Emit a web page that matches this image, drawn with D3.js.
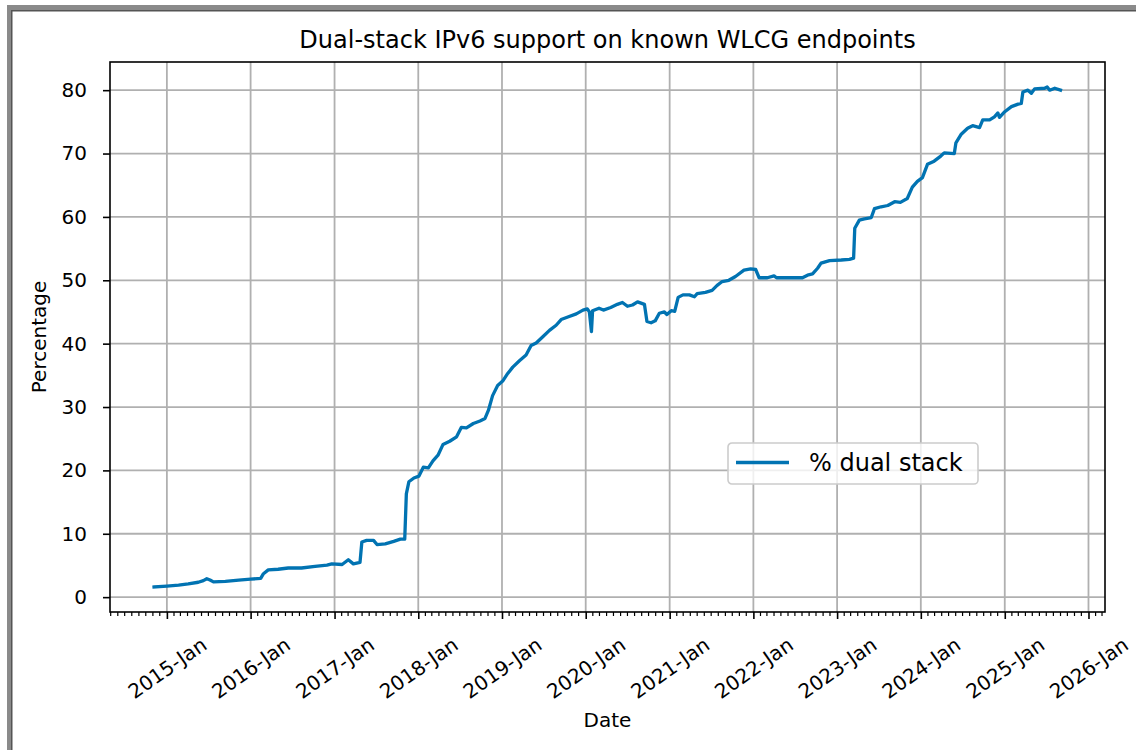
<!DOCTYPE html>
<html>
<head>
<meta charset="utf-8">
<script src="https://cdn.jsdelivr.net/npm/d3@7"></script>
<style>
  body { margin: 0; background: #fff; }
  svg text { font-family: "DejaVu Sans", sans-serif; fill: #000; }
</style>
</head>
<body>
<svg id="chart" width="1136" height="750"></svg>
<script>
var dates = [
  "2014-11-06","2015-01-01","2015-02-21","2015-04-04","2015-05-18","2015-06-09","2015-06-24","2015-07-08",
  "2015-07-23","2015-09-13","2015-11-10","2016-01-01","2016-02-14","2016-02-26","2016-03-18","2016-04-30",
  "2016-06-13","2016-08-10","2016-10-08","2016-11-29","2016-12-20","2017-02-03","2017-03-02","2017-03-24",
  "2017-04-22","2017-04-30","2017-05-21","2017-06-20","2017-07-05","2017-08-10","2017-09-16","2017-10-15",
  "2017-11-03","2017-11-10","2017-11-21","2017-12-13","2018-01-04","2018-01-23","2018-02-14","2018-03-06",
  "2018-03-28","2018-04-19","2018-05-18","2018-06-17","2018-07-08","2018-07-30","2018-08-29","2018-09-27",
  "2018-10-19","2018-11-03","2018-11-21","2018-12-13","2019-01-04","2019-01-26","2019-02-17","2019-03-18",
  "2019-04-16","2019-05-08","2019-05-30","2019-06-28","2019-07-27","2019-08-25","2019-09-16","2019-10-15",
  "2019-11-21","2019-12-20","2020-01-08","2020-01-17","2020-01-26","2020-01-31","2020-02-28","2020-03-18",
  "2020-04-19","2020-05-18","2020-06-09","2020-07-01","2020-07-23","2020-08-14","2020-09-13","2020-09-24",
  "2020-10-12","2020-10-30","2020-11-17","2020-12-09","2020-12-20","2021-01-08","2021-01-23","2021-02-07",
  "2021-02-28","2021-03-28","2021-04-19","2021-05-01","2021-06-06","2021-07-05","2021-07-27","2021-08-18",
  "2021-09-16","2021-10-15","2021-11-21","2021-12-20","2022-01-11","2022-01-26","2022-03-03","2022-04-01",
  "2022-04-12","2022-06-13","2022-08-03","2022-08-25","2022-09-16","2022-10-08","2022-10-23","2022-11-29",
  "2023-01-19","2023-02-24","2023-03-14","2023-03-19","2023-04-08","2023-04-30","2023-05-30","2023-06-13",
  "2023-07-12","2023-08-10","2023-09-09","2023-10-04","2023-11-03","2023-11-25","2023-12-17","2024-01-08",
  "2024-01-30","2024-02-28","2024-03-28","2024-04-12","2024-05-26","2024-06-02","2024-06-24","2024-07-23",
  "2024-08-14","2024-09-13","2024-09-27","2024-10-27","2024-11-17","2024-12-02","2024-12-09","2025-01-01",
  "2025-01-30","2025-02-28","2025-03-14","2025-03-21","2025-04-12","2025-04-27","2025-05-11","2025-06-24",
  "2025-07-05","2025-07-16","2025-08-07","2025-09-01"
]
var dualStack = [
  1.6, 1.75, 1.9, 2.1, 2.35, 2.6, 2.9, 2.7,
  2.4, 2.5, 2.7, 2.85, 2.95, 3.7, 4.3, 4.4,
  4.6, 4.6, 4.85, 5.05, 5.25, 5.15, 5.9, 5.25,
  5.5, 8.7, 8.95, 8.95, 8.3, 8.4, 8.8, 9.15,
  9.15, 16.3, 18.2, 18.8, 19.1, 20.5, 20.4, 21.5,
  22.4, 24.1, 24.6, 25.3, 26.8, 26.7, 27.4, 27.8,
  28.2, 29.5, 31.8, 33.4, 34.1, 35.3, 36.3, 37.3,
  38.2, 39.7, 40.1, 41.1, 42.1, 42.9, 43.8, 44.2,
  44.7, 45.3, 45.5, 45.0, 41.9, 45.2, 45.6, 45.3,
  45.7, 46.2, 46.5, 45.9, 46.1, 46.6, 46.2, 43.5,
  43.3, 43.6, 44.8, 45.0, 44.6, 45.2, 45.1, 47.3,
  47.7, 47.7, 47.4, 47.9, 48.1, 48.4, 49.2, 49.8,
  50.0, 50.6, 51.6, 51.8, 51.7, 50.4, 50.4, 50.7,
  50.4, 50.4, 50.4, 50.8, 51.0, 51.9, 52.7, 53.1,
  53.2, 53.3, 53.5, 58.2, 59.5, 59.7, 59.9, 61.3,
  61.6, 61.8, 62.4, 62.3, 62.9, 64.7, 65.6, 66.2,
  68.3, 68.8, 69.6, 70.1, 70.0, 71.7, 73.0, 74.0,
  74.4, 74.1, 75.3, 75.3, 75.8, 76.4, 75.7, 76.6,
  77.4, 77.8, 77.9, 79.7, 80.0, 79.5, 80.2, 80.3,
  80.5, 80.0, 80.3, 80.0
]
var yTicks = [0, 10, 20, 30, 40, 50, 60, 70, 80]
var xDomain = ["2014-04-28", "2026-03-14"]
var chartTitle = "Dual-stack IPv6 support on known WLCG endpoints"
var seriesName = "% dual stack"

var W = 1136, H = 750
// note: "top" is taken by window.top, so use a margin object
var m = { left: 110, right: 1105, top: 62, bottom: 612 }
var lineColor = "#0173b2"

var parse = d3.utcParse("%Y-%m-%d")
var data = dates.map(function(d, i) { return { date: parse(d), value: dualStack[i] } })

var svg = d3.select("#chart")

// window frame seen on the screenshot
svg.append("rect").attr("x", 7).attr("y", 5).attr("width", W - 7).attr("height", 6).attr("fill", "#8a8a8a")
svg.append("rect").attr("x", 7).attr("y", 5).attr("width", 5).attr("height", H - 5).attr("fill", "#8a8a8a")
svg.append("rect").attr("x", 11).attr("y", 10).attr("width", W - 11).attr("height", 1.5).attr("fill", "#555")
svg.append("rect").attr("x", 11).attr("y", 10).attr("width", 1.5).attr("height", H - 10).attr("fill", "#555")

var x = d3.scaleUtc().domain(xDomain.map(parse)).range([m.left, m.right])
var ext = d3.extent(dualStack)
var padY = (ext[1] - ext[0]) * 0.05
var y = d3.scaleLinear().domain([ext[0] - padY, ext[1] + padY]).range([m.bottom, m.top])

var years = d3.utcYear.range(d3.utcYear.ceil(x.domain()[0]), x.domain()[1])
var months = d3.utcMonth.range(d3.utcMonth.ceil(x.domain()[0]), x.domain()[1])

// grid
var grid = svg.append("g").attr("stroke", "#b0b0b0").attr("stroke-width", 1.8)
grid.selectAll(".gx").data(years).enter().append("line")
  .attr("x1", function(d) { return x(d) }).attr("x2", function(d) { return x(d) })
  .attr("y1", m.top).attr("y2", m.bottom)
grid.selectAll(".gy").data(yTicks).enter().append("line")
  .attr("y1", function(d) { return y(d) }).attr("y2", function(d) { return y(d) })
  .attr("x1", m.left).attr("x2", m.right)

// series
var line = d3.line().x(function(d) { return x(d.date) }).y(function(d) { return y(d.value) })
svg.append("path").datum(data)
  .attr("d", line)
  .attr("fill", "none")
  .attr("stroke", lineColor)
  .attr("stroke-width", 3.3)
  .attr("stroke-linejoin", "round")
  .attr("stroke-linecap", "square")

// axes
var xAxis = d3.axisBottom(x).tickValues(years).tickFormat(d3.utcFormat("%Y-%b")).tickSize(7).tickPadding(0)
var gx = svg.append("g").attr("transform", "translate(0," + m.bottom + ")").call(xAxis)
gx.select(".domain").remove()
gx.selectAll(".tick line").attr("stroke", "#000").attr("stroke-width", 1.6)
gx.selectAll(".tick text")
  .attr("font-size", 20)
  .attr("text-anchor", "middle")
  .attr("dy", null)
  .attr("y", null)
  .attr("dominant-baseline", "central")
  .attr("transform", "translate(0,56) rotate(-35)")

var minor = svg.append("g").attr("stroke", "#000").attr("stroke-width", 1.2)
minor.selectAll("line").data(months.filter(function(d) { return d.getUTCMonth() !== 0 })).enter().append("line")
  .attr("x1", function(d) { return x(d) }).attr("x2", function(d) { return x(d) })
  .attr("y1", m.bottom).attr("y2", m.bottom + 4)

var yAxis = d3.axisLeft(y).tickValues(yTicks).tickSize(7).tickPadding(16)
var gy = svg.append("g").attr("transform", "translate(" + m.left + ",0)").call(yAxis)
gy.select(".domain").remove()
gy.selectAll(".tick line").attr("stroke", "#000").attr("stroke-width", 1.6)
gy.selectAll(".tick text").attr("font-size", 20)

// spines
svg.append("rect")
  .attr("x", m.left).attr("y", m.top).attr("width", m.right - m.left).attr("height", m.bottom - m.top)
  .attr("fill", "none").attr("stroke", "#000").attr("stroke-width", 1.6)

// labels
svg.append("text").attr("x", (m.left + m.right) / 2).attr("y", 48)
  .attr("text-anchor", "middle").attr("font-size", 24).text(chartTitle)
svg.append("text").attr("x", (m.left + m.right) / 2).attr("y", 727)
  .attr("text-anchor", "middle").attr("font-size", 20).text("Date")
svg.append("text").attr("transform", "translate(46," + (m.top + m.bottom) / 2 + ") rotate(-90)")
  .attr("text-anchor", "middle").attr("font-size", 20).text("Percentage")

// legend
var lg = svg.append("g").attr("transform", "translate(728,443)")
lg.append("rect").attr("width", 250).attr("height", 41).attr("rx", 4)
  .attr("fill", "#fff").attr("fill-opacity", 0.8).attr("stroke", "#cccccc").attr("stroke-width", 1.6)
lg.append("line").attr("x1", 8).attr("x2", 61).attr("y1", 19.5).attr("y2", 19.5)
  .attr("stroke", lineColor).attr("stroke-width", 3.3)
lg.append("text").attr("x", 81).attr("y", 20).attr("dominant-baseline", "central")
  .attr("font-size", 24).text(seriesName)
</script>
</body>
</html>
